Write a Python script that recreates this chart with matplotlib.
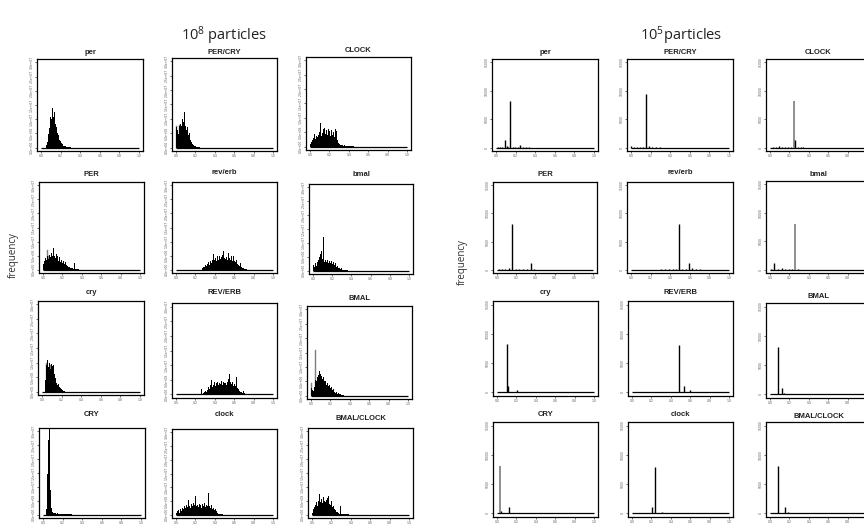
import numpy as np
import matplotlib
matplotlib.use("Agg")
import matplotlib.pyplot as plt

plt.rcParams["mathtext.fontset"] = "custom"
plt.rcParams["mathtext.rm"] = "Open Sans"

W, H = 864, 527
bin_w = 0.01

names = ["per", "PER/CRY", "CLOCK",
         "PER", "rev/erb", "bmal",
         "cry", "REV/ERB", "BMAL",
         "CRY", "clock", "BMAL/CLOCK"]

x_ticks = [0.0, 0.2, 0.4, 0.6, 0.8, 1.0]
big_yticks = [0, 5e6, 1e7, 1.5e7, 2e7, 2.5e7, 3e7]
small_yticks = [0, 5000, 10000, 15000]

# 10^8 particles: (first bin, counts in millions for consecutive 0.01 bins)
b_per = (0.05, [1.0, 2.0, 4.8, 7.0, 10.8, 10.2, 14.0, 10.6, 12.4, 8.2, 7.4, 5.0, 4.3,
                2.8, 2.4, 1.5, 1.3, 0.8, 0.7, 0.45, 0.4, 0.25, 0.2, 0.15, 0.1, 0.1])
b_percry = (0.0, [7.0, 6.2, 4.8, 7.5, 8.2, 7.6, 9.8, 8.8, 12.4, 7.6, 6.0, 7.0, 4.2,
                  5.0, 3.0, 2.6, 1.8, 1.3, 0.9, 0.6, 0.45, 0.3, 0.2, 0.15, 0.1])
b_CLOCK = (0.0, [0.8, 1.5, 2.2, 3.0, 4.5, 2.8, 3.6, 3.2, 4.2, 5.0, 8.3, 3.8, 4.6, 6.0,
                 5.2, 6.5, 4.4, 5.8, 4.0, 6.2, 5.4, 3.6, 5.8, 4.2, 5.0, 3.4, 6.0, 5.5,
                 2.4, 1.2, 0.8, 0.6, 0.5, 0.4, 0.3, 0.5, 0.2, 0.15, 0.1, 0.1, 0.1, 0.3,
                 0.1, 0.1, 0.1])
b_PER = (0.0, [2.0, 3.0, 4.2, 3.6, 5.0, 3.8, 5.2, 4.6, 6.0, 5.0, 7.6, 4.8, 4.0, 5.6,
               3.6, 4.8, 3.2, 4.4, 2.8, 3.6, 2.4, 3.0, 2.0, 2.6, 1.6, 1.2, 1.0, 0.8,
               0.6, 0.5, 0.6, 0.4, 2.4, 0.3, 0.2, 0.15, 0.1])
b_reverb = (0.27, [0.5, 1.0, 0.8, 1.5, 1.2, 2.0, 2.6, 1.8, 3.0, 2.4, 3.6, 5.5, 3.4, 4.2,
                   3.0, 4.8, 3.6, 5.0, 3.8, 4.4, 5.2, 6.6, 4.0, 5.4, 3.8, 4.6, 3.6, 5.8,
                   4.2, 3.6, 4.8, 3.2, 5.0, 3.0, 2.6, 3.4, 2.0, 1.6, 1.2, 2.2, 0.8, 0.6,
                   0.5, 0.4, 0.3, 0.2])
b_bmal = (0.0, [2.0, 1.2, 2.6, 1.8, 3.0, 4.0, 5.0, 6.0, 7.0, 5.4, 4.2, 12.0, 3.2, 4.0,
                3.0, 3.8, 2.8, 3.6, 2.6, 3.4, 2.4, 3.0, 2.0, 2.6, 1.4, 1.8, 1.0, 0.8,
                0.6, 1.0, 0.4, 0.3, 0.3, 0.2, 0.15, 0.1])
b_cry = (0.03, [4.0, 9.0, 10.7, 8.6, 10.0, 7.6, 9.6, 8.8, 9.0, 6.2, 4.6, 3.0, 2.2, 2.6,
                1.5, 1.2, 0.8, 0.5, 0.3, 0.2, 0.1])
b_REVERB = (0.26, [1.7, 0.3, 0.5, 0.8, 1.2, 0.9, 1.6, 2.4, 1.8, 3.2, 5.0, 2.6, 3.4, 4.2,
                   3.0, 3.8, 4.4, 3.2, 4.0, 3.6, 4.6, 3.4, 4.2, 3.8, 5.0, 4.0, 3.4, 4.4,
                   5.2, 7.0, 4.2, 3.6, 4.4, 3.0, 3.6, 2.8, 5.8, 2.2, 1.8, 1.2, 0.9, 0.7,
                   0.5, 1.1, 0.4, 0.3, 0.2, 0.2, 0.1])
b_BMAL = (0.0, [2.5, 2.0, 1.5, 3.0, 5.5, 5.0, 6.5, 7.2, 8.4, 7.6, 6.8, 5.6, 6.4, 5.0,
                4.4, 5.2, 3.8, 4.4, 3.2, 3.8, 2.6, 3.0, 2.0, 2.4, 1.4, 1.0, 1.2, 0.6,
                0.8, 0.4, 0.6, 0.2, 0.15, 0.1])
b_CRY = (0.03, [2.0, 14.5, 26.8, 31.5, 9.0, 2.5, 1.0, 0.6, 0.5, 0.5, 0.4, 0.5, 0.4, 0.3,
                0.4, 0.3, 0.3, 0.2, 0.3, 0.2, 0.2, 0.2, 0.15, 0.15, 0.1, 0.1, 0.1])
b_clock = (0.0, [0.5, 1.2, 1.6, 0.8, 2.0, 1.4, 2.6, 2.0, 3.0, 2.4, 3.6, 2.8, 5.3, 3.0,
                 4.2, 2.6, 3.8, 3.2, 4.4, 3.4, 6.7, 3.0, 3.6, 2.8, 4.0, 3.4, 2.6, 3.8,
                 3.0, 4.2, 2.8, 3.6, 3.0, 7.8, 3.2, 2.6, 3.4, 2.0, 2.6, 1.6, 2.0, 1.2,
                 0.8, 0.4, 0.3, 0.2, 0.2, 0.1])
b_bmalclock = (0.0, [0.6, 2.0, 2.6, 3.6, 4.4, 3.2, 5.0, 7.4, 4.6, 5.6, 4.2, 6.4, 5.0,
                     4.6, 9.0, 5.4, 6.0, 6.8, 4.0, 3.6, 4.8, 2.8, 3.0, 2.0, 1.6, 1.0,
                     0.8, 0.6, 0.4, 3.0, 0.3, 0.2, 0.2, 0.15, 0.1, 0.1, 0.1, 0.1])

# second (grey) run overlaid on a few of the 10^8 panels: (bin, millions)
g_percry = [(0.0, 7.5), (0.03, 8.0)]
g_PER = [(0.04, 7.0), (0.05, 5.0)]
g_BMAL = [(0.0, 4.4), (0.04, 16.0)]
g_cry = [(0.04, 10.0), (0.08, 9.0)]

big_black = [b_per, b_percry, b_CLOCK, b_PER, b_reverb, b_bmal,
             b_cry, b_REVERB, b_BMAL, b_CRY, b_clock, b_bmalclock]
big_grey = [[], g_percry, [], g_PER, [], [], g_cry, [], g_BMAL, [], [], []]

# 10^5 particles: (bin, count)
s_per = [(0.02, 100), (0.04, 150), (0.06, 100), (0.09, 1250), (0.11, 200), (0.12, 150),
         (0.14, 8200), (0.17, 150), (0.19, 100), (0.22, 150), (0.24, 450), (0.27, 100),
         (0.30, 100), (0.33, 80)]
s_percry = [(0.0, 350), (0.03, 100), (0.06, 120), (0.09, 100), (0.12, 150), (0.15, 9350),
            (0.18, 200), (0.21, 120), (0.25, 100), (0.29, 80)]
s_CLOCK = [(0.03, 80), (0.06, 120), (0.09, 200), (0.12, 150), (0.15, 100), (0.18, 120),
           (0.21, 150), (0.25, 1250), (0.28, 150), (0.31, 100), (0.34, 80)]
s_PER = [(0.02, 100), (0.05, 120), (0.08, 100), (0.12, 300), (0.15, 8100), (0.19, 150),
         (0.23, 120), (0.27, 100), (0.31, 150), (0.35, 1150), (0.38, 100)]
s_reverb = [(0.30, 80), (0.34, 100), (0.38, 120), (0.42, 100), (0.45, 150), (0.48, 8100),
            (0.52, 150), (0.56, 120), (0.59, 1150), (0.62, 300), (0.66, 100), (0.70, 80)]
s_bmal = [(0.01, 100), (0.04, 1200), (0.08, 100), (0.12, 350), (0.15, 120), (0.19, 100),
          (0.22, 150), (0.28, 80)]
s_cry = [(0.04, 100), (0.07, 120), (0.10, 8200), (0.11, 1150), (0.14, 150), (0.17, 120),
         (0.20, 350), (0.24, 100), (0.28, 80)]
s_REVERB = [(0.32, 80), (0.36, 100), (0.40, 120), (0.44, 150), (0.48, 8100), (0.53, 1150),
            (0.56, 150), (0.59, 400), (0.63, 120), (0.67, 100), (0.71, 80)]
s_BMAL = [(0.01, 100), (0.04, 120), (0.08, 8050), (0.12, 1130), (0.14, 300), (0.17, 120),
          (0.20, 100), (0.24, 80)]
s_CRY = [(0.04, 350), (0.07, 120), (0.10, 100), (0.12, 1080), (0.15, 150), (0.18, 100),
         (0.21, 80)]
s_clock = [(0.03, 80), (0.07, 100), (0.11, 120), (0.15, 100), (0.20, 1050), (0.23, 7950),
           (0.26, 150), (0.30, 300), (0.34, 100)]
s_bmalclock = [(0.01, 100), (0.04, 120), (0.08, 8050), (0.11, 150), (0.15, 1150),
               (0.18, 200), (0.22, 120), (0.26, 100), (0.30, 80)]

sg_CLOCK = [(0.24, 8200)]
sg_bmal = [(0.25, 8100)]
sg_CRY = [(0.03, 8050)]

small_black = [s_per, s_percry, s_CLOCK, s_PER, s_reverb, s_bmal,
               s_cry, s_REVERB, s_BMAL, s_CRY, s_clock, s_bmalclock]
small_grey = [[], [], sg_CLOCK, [], [], sg_bmal, [], [], [], sg_CRY, [], []]

# panel boxes in pixels: left, top, right, bottom, title centre y
left_boxes = [(37, 59, 143, 151, 52), (172, 58, 277, 151, 52), (306, 57, 411, 150, 51),
              (39, 182, 144, 273, 175), (172, 182, 277, 273, 173), (309, 184, 413, 274, 175),
              (38, 301, 144, 395, 292), (172, 303, 277, 398, 293), (307, 306, 412, 399, 298),
              (39, 428, 145, 518, 414), (172, 429, 277, 518, 414), (308, 428, 413, 518, 418)]
right_boxes = [(492, 59, 598, 151, 52), (627, 59, 733, 151, 52), (766, 59, 871, 151, 52),
               (493, 182, 597, 273, 174), (627, 182, 733, 273, 173), (766, 181, 871, 273, 174),
               (493, 301, 598, 396, 293), (628, 301, 733, 396, 293), (766, 303, 871, 398, 296),
               (493, 422, 598, 517, 414), (628, 422, 733, 517, 414), (766, 422, 871, 517, 416)]


def make_axes(fig, box, name):
    l, t, r, b, ty = box
    ax = fig.add_axes([l / W, 1 - b / H, (r - l) / W, (b - t) / H])
    ax.set_xlim(-0.04, 1.04)
    for s in ax.spines.values():
        s.set_linewidth(0.9)
    ax.tick_params(direction="out", length=1.5, width=0.4, pad=0.8,
                   labelsize=2.2, labelcolor="#555555")
    # panels running off the right edge lose the labels that would be cut
    labels = []
    for v in x_ticks:
        px = l + (v + 0.04) / 1.08 * (r - l)
        labels.append("%.1f" % v if px < W - 4 else "")
    ax.set_xticks(x_ticks, labels)
    fig.text((l + r) / 2 / W, 1 - ty / H, name, ha="center", va="center",
             fontsize=5.5, fontweight="bold", family="Liberation Sans", color="#222222")
    return ax


def baseline(ax):
    edges = np.arange(0, 1 + bin_w / 2, bin_w)
    ax.hlines(0, edges[0], edges[-1], color="black", lw=0.9)


fig = plt.figure(figsize=(W / 100, H / 100), dpi=100)

# 10^8 panels
for i in range(12):
    ax = make_axes(fig, left_boxes[i], names[i])
    top = big_yticks[-1]
    ax.set_ylim(-0.04 * top, 1.04 * top)
    ax.set_yticks(big_yticks, ["%.1e" % v for v in big_yticks], rotation=90, va="center")
    baseline(ax)
    for x, h in big_grey[i]:
        ax.bar(x, h * 1e6, width=bin_w, align="edge", color="#808080",
               edgecolor="#808080", linewidth=0.3)
    start, vals = big_black[i]
    edges = start + np.arange(len(vals) + 1) * bin_w
    ax.stairs(np.array(vals) * 1e6, edges, fill=True, color="black", baseline=0)

# 10^5 panels
for i in range(12):
    ax = make_axes(fig, right_boxes[i], names[i])
    top = small_yticks[-1]
    ax.set_ylim(-0.04 * top, 1.04 * top)
    ax.set_yticks(small_yticks, [str(v) for v in small_yticks], rotation=90, va="center")
    baseline(ax)
    for x, h in small_grey[i]:
        ax.vlines(x + bin_w / 2, 0, h, color="#707070", lw=1.1)
    xs = [p[0] + bin_w / 2 for p in small_black[i]]
    hs = [p[1] for p in small_black[i]]
    ax.vlines(xs, 0, hs, color="black", lw=1.0)

fig.text(224 / W, 1 - 36 / H, r"$\mathregular{10^8}$ particles", ha="center", va="center",
         fontsize=10.5, family="Open Sans", color="#222222")
fig.text(681 / W, 1 - 36 / H, r"$\mathregular{10^5}$particles", ha="center", va="center",
         fontsize=10.5, family="Open Sans", color="#222222")
fig.text(13 / W, 1 - 255 / H, "frequency", rotation=90, ha="center", va="center",
         fontsize=7, family="Open Sans", color="#333333")
fig.text(462 / W, 1 - 262 / H, "frequency", rotation=90, ha="center", va="center",
         fontsize=7, family="Open Sans", color="#333333")

fig.savefig("out.png", dpi=100)
